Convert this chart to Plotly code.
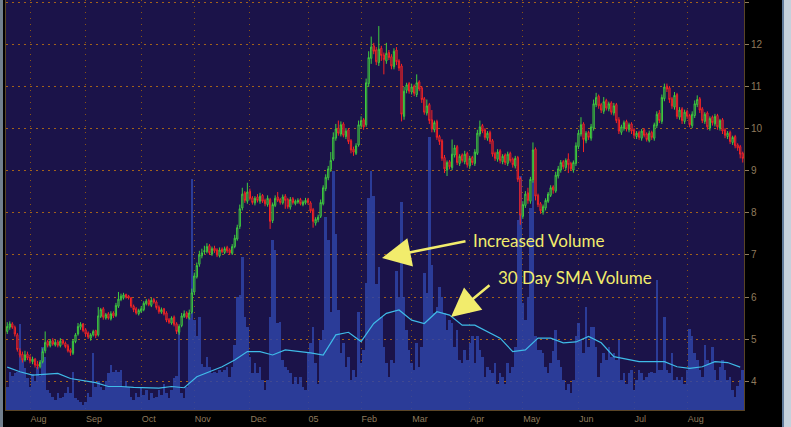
import pandas as pd
import plotly.graph_objects as go

# ---------------- data ----------------
start_date = "2004-07-20"
month_labels = ["Aug", "Sep", "Oct", "Nov", "Dec", "05", "Feb", "Mar", "Apr", "May", "Jun", "Jul", "Aug"]

opens = [
 5.18, 5.28, 5.36, 5.28, 5.10, 4.72, 4.64, 4.50, 4.64, 4.56,
 4.46, 4.52, 4.40, 4.34, 4.46, 4.72, 4.94, 4.84, 4.96, 4.86,
 4.93, 4.84, 4.97, 4.90, 4.84, 4.74, 4.66, 4.94, 5.12, 5.28,
 5.36, 5.22, 5.14, 5.02, 5.10, 5.20, 5.10, 5.54, 5.72, 5.50,
 5.60, 5.48, 5.62, 5.56, 5.78, 5.94, 5.98, 6.06, 6.02, 5.98,
 5.78, 5.72, 5.60, 5.66, 5.70, 5.84, 5.92, 5.80, 5.94, 5.88,
 5.76, 5.64, 5.72, 5.62, 5.46, 5.38, 5.52, 5.36, 5.16, 5.32,
 5.54, 5.62, 5.50, 5.64, 6.12, 6.48, 6.78, 6.98, 7.08, 7.08,
 7.22, 7.02, 7.16, 7.12, 6.98, 7.14, 7.06, 7.18, 7.12, 7.04,
 7.20, 7.38, 7.68, 8.12, 8.48, 8.28, 8.52, 8.36, 8.24, 8.38,
 8.28, 8.42, 8.30, 8.20, 8.32, 7.82, 8.18, 8.38, 8.32, 8.24,
 8.40, 8.32, 8.14, 8.34, 8.22, 8.26, 8.32, 8.20, 8.24, 8.32,
 8.24, 8.08, 7.76, 7.84, 7.92, 8.22, 8.58, 8.84, 9.04, 9.28,
 9.78, 10.02, 9.88, 10.12, 9.82, 9.98, 9.72, 9.52, 9.42, 9.62,
 10.08, 10.22, 10.10, 11.08, 11.68, 11.98, 11.88, 11.58, 11.92, 11.76,
 11.62, 11.82, 11.72, 11.48, 11.88, 11.62, 11.50, 10.30, 10.92, 11.08,
 10.88, 11.02, 10.82, 11.12, 10.98, 10.72, 10.38, 10.58, 10.22, 9.98,
 10.18, 9.82, 9.72, 9.32, 9.02, 9.22, 9.08, 9.38, 9.58, 9.18,
 9.38, 9.22, 9.42, 9.12, 9.32, 9.18, 9.42, 9.88, 10.08, 9.98,
 9.78, 9.92, 9.72, 9.42, 9.28, 9.48, 9.22, 9.38, 9.18, 9.42,
 9.28, 9.12, 9.32, 8.82, 7.92, 8.18, 8.48, 8.28, 8.78, 9.52,
 8.42, 8.22, 8.02, 8.12, 8.28, 8.42, 8.62, 8.52, 8.88, 9.02,
 9.22, 9.08, 9.28, 9.18, 9.02, 9.18, 9.58, 9.88, 10.12, 9.72,
 9.92, 9.78, 10.02, 10.58, 10.78, 10.58, 10.42, 10.68, 10.48, 10.62,
 10.38, 10.58, 10.22, 9.92, 10.02, 10.18, 9.98, 10.12, 9.98, 9.82,
 9.92, 9.78, 9.98, 9.88, 9.72, 9.92, 9.78, 10.08, 10.38, 10.18,
 10.72, 11.02, 10.98, 10.72, 10.52, 10.82, 10.28, 10.48, 10.18, 10.42,
 10.32, 10.08, 10.32, 10.58, 10.72, 10.48, 10.18, 10.38, 10.02, 10.28,
 10.12, 10.32, 10.02, 10.22, 9.98, 9.82, 9.92, 9.68, 9.82, 9.62,
 9.58, 9.42,
]

highs = [
 5.40, 5.42, 5.40, 5.32, 5.14, 4.78, 4.70, 4.72, 4.70, 4.62,
 4.58, 4.55, 4.48, 4.50, 4.78, 5.18, 4.98, 5.00, 5.02, 4.98,
 4.98, 5.02, 5.00, 4.94, 4.88, 4.78, 5.00, 5.14, 5.38, 5.40,
 5.38, 5.26, 5.18, 5.14, 5.22, 5.22, 5.76, 5.74, 5.76, 5.62,
 5.64, 5.66, 5.66, 5.86, 6.12, 6.08, 6.10, 6.08, 6.05, 6.00,
 5.82, 5.76, 5.72, 5.78, 5.90, 5.95, 5.96, 5.98, 5.98, 5.92,
 5.80, 5.75, 5.74, 5.66, 5.50, 5.54, 5.56, 5.40, 5.35, 5.62,
 5.68, 5.66, 5.70, 6.20, 6.58, 6.82, 7.10, 7.15, 7.22, 7.28,
 7.26, 7.20, 7.22, 7.16, 7.18, 7.18, 7.20, 7.22, 7.16, 7.26,
 7.48, 7.72, 8.20, 8.60, 8.52, 8.72, 8.58, 8.40, 8.40, 8.45,
 8.48, 8.45, 8.34, 8.42, 8.36, 8.25, 8.42, 8.50, 8.36, 8.44,
 8.45, 8.36, 8.38, 8.38, 8.32, 8.35, 8.36, 8.30, 8.36, 8.36,
 8.28, 8.12, 7.90, 7.96, 8.32, 8.66, 8.92, 9.12, 9.45, 9.92,
 10.12, 10.20, 10.18, 10.16, 10.02, 10.02, 9.76, 9.58, 9.66, 10.20,
 10.30, 10.26, 11.20, 11.85, 12.20, 12.05, 11.95, 12.45, 11.98, 11.82,
 12.05, 11.88, 11.78, 11.92, 11.95, 11.66, 11.55, 11.00, 11.10, 11.12,
 11.08, 11.06, 11.30, 11.16, 11.02, 10.76, 10.70, 10.62, 10.45, 10.20,
 10.22, 9.86, 9.76, 9.38, 9.25, 9.26, 9.75, 9.62, 9.62, 9.40,
 9.42, 9.48, 9.46, 9.36, 9.36, 9.52, 9.98, 10.20, 10.12, 10.02,
 9.95, 9.96, 9.76, 9.46, 9.52, 9.52, 9.40, 9.42, 9.46, 9.46,
 9.32, 9.36, 9.36, 8.86, 8.28, 8.52, 8.60, 8.86, 9.68, 9.56,
 8.46, 8.26, 8.20, 8.35, 8.50, 8.66, 8.66, 8.98, 9.12, 9.26,
 9.26, 9.30, 9.42, 9.22, 9.25, 9.68, 9.98, 10.28, 10.16, 9.95,
 9.96, 10.12, 10.70, 10.86, 10.82, 10.62, 10.76, 10.72, 10.65, 10.66,
 10.62, 10.62, 10.28, 10.10, 10.20, 10.22, 10.15, 10.16, 10.02, 9.95,
 9.96, 10.00, 10.02, 9.92, 9.96, 9.96, 10.15, 10.42, 10.45, 10.82,
 11.08, 11.08, 11.02, 10.76, 10.88, 10.86, 10.52, 10.52, 10.46, 10.46,
 10.36, 10.42, 10.68, 10.80, 10.76, 10.52, 10.40, 10.42, 10.30, 10.32,
 10.36, 10.36, 10.24, 10.26, 10.02, 9.95, 9.96, 9.84, 9.86, 9.66,
 9.62, 9.46,
]

lows = [
 5.12, 5.22, 5.24, 5.06, 4.70, 4.56, 4.44, 4.46, 4.50, 4.42,
 4.40, 4.32, 4.28, 4.30, 4.42, 4.66, 4.80, 4.80, 4.84, 4.82,
 4.80, 4.80, 4.86, 4.78, 4.68, 4.60, 4.62, 4.90, 5.08, 5.22,
 5.16, 5.06, 5.00, 4.96, 5.06, 5.02, 5.06, 5.50, 5.46, 5.46,
 5.46, 5.44, 5.50, 5.52, 5.74, 5.90, 5.94, 5.96, 5.94, 5.74,
 5.64, 5.58, 5.56, 5.62, 5.66, 5.80, 5.78, 5.76, 5.84, 5.70,
 5.60, 5.60, 5.56, 5.40, 5.36, 5.34, 5.30, 5.12, 5.10, 5.28,
 5.50, 5.48, 5.46, 5.60, 6.05, 6.44, 6.72, 6.92, 7.02, 7.04,
 7.00, 6.98, 7.05, 6.95, 6.94, 7.04, 7.02, 7.05, 7.00, 7.00,
 7.16, 7.34, 7.62, 8.06, 8.24, 8.22, 8.30, 8.20, 8.18, 8.25,
 8.22, 8.24, 8.16, 8.15, 7.62, 7.76, 8.14, 8.26, 8.20, 8.20,
 8.10, 8.10, 8.08, 8.20, 8.18, 8.22, 8.18, 8.16, 8.20, 8.20,
 8.00, 7.65, 7.70, 7.78, 7.88, 8.18, 8.52, 8.78, 8.98, 9.24,
 9.72, 9.84, 9.82, 9.80, 9.76, 9.64, 9.42, 9.36, 9.38, 9.58,
 10.02, 9.98, 10.05, 11.00, 11.55, 11.78, 11.52, 11.50, 11.62, 11.30,
 11.55, 11.64, 11.42, 11.42, 11.52, 11.38, 10.18, 10.22, 10.85, 10.84,
 10.82, 10.78, 10.76, 10.90, 10.62, 10.34, 10.32, 10.12, 9.92, 9.92,
 9.74, 9.62, 9.24, 8.95, 8.88, 9.04, 9.02, 9.32, 9.14, 9.12,
 9.20, 9.16, 9.08, 9.06, 9.14, 9.12, 9.38, 9.82, 9.90, 9.74,
 9.72, 9.64, 9.34, 9.24, 9.22, 9.18, 9.16, 9.14, 9.12, 9.20,
 9.08, 9.06, 8.74, 7.72, 7.86, 8.12, 8.22, 8.22, 8.72, 8.30,
 8.14, 7.98, 7.96, 8.06, 8.24, 8.38, 8.46, 8.48, 8.82, 8.96,
 9.04, 9.02, 8.95, 9.00, 8.96, 9.12, 9.52, 9.82, 9.45, 9.66,
 9.74, 9.72, 9.96, 10.52, 10.48, 10.38, 10.36, 10.44, 10.42, 10.34,
 10.32, 10.14, 9.88, 9.86, 9.96, 9.94, 9.92, 9.88, 9.78, 9.76,
 9.74, 9.72, 9.80, 9.70, 9.68, 9.74, 9.72, 10.02, 10.14, 10.12,
 10.66, 10.88, 10.62, 10.48, 10.46, 10.24, 10.22, 10.12, 10.12, 10.24,
 10.04, 10.02, 10.26, 10.52, 10.38, 10.14, 10.12, 9.98, 9.96, 10.08,
 10.06, 9.98, 9.96, 9.88, 9.78, 9.76, 9.64, 9.62, 9.54, 9.48,
 9.30, 9.20,
]

closes = [
 5.30, 5.36, 5.28, 5.12, 4.75, 4.62, 4.50, 4.62, 4.55, 4.48,
 4.52, 4.38, 4.35, 4.45, 4.70, 4.92, 4.85, 4.95, 4.88, 4.92,
 4.85, 4.95, 4.90, 4.82, 4.72, 4.68, 4.95, 5.10, 5.30, 5.35,
 5.20, 5.12, 5.05, 5.10, 5.18, 5.08, 5.55, 5.70, 5.52, 5.58,
 5.50, 5.60, 5.55, 5.80, 5.95, 6.02, 6.05, 6.00, 5.98, 5.78,
 5.70, 5.62, 5.68, 5.72, 5.85, 5.90, 5.82, 5.92, 5.88, 5.75,
 5.65, 5.70, 5.60, 5.45, 5.40, 5.50, 5.35, 5.18, 5.30, 5.55,
 5.60, 5.52, 5.62, 6.10, 6.50, 6.75, 7.00, 7.05, 7.10, 7.20,
 7.05, 7.15, 7.10, 7.00, 7.12, 7.08, 7.15, 7.10, 7.05, 7.20,
 7.40, 7.65, 8.10, 8.45, 8.30, 8.50, 8.35, 8.25, 8.35, 8.30,
 8.40, 8.28, 8.22, 8.35, 7.80, 8.20, 8.35, 8.30, 8.25, 8.38,
 8.30, 8.15, 8.32, 8.25, 8.28, 8.30, 8.22, 8.26, 8.30, 8.25,
 8.05, 7.80, 7.85, 7.90, 8.25, 8.60, 8.85, 9.05, 9.25, 9.80,
 10.00, 9.90, 10.10, 9.85, 9.95, 9.70, 9.50, 9.45, 9.60, 10.10,
 10.20, 10.05, 11.10, 11.70, 11.95, 11.85, 11.60, 11.90, 11.75, 11.65,
 11.80, 11.70, 11.50, 11.85, 11.60, 11.45, 10.35, 10.90, 11.05, 10.90,
 11.00, 10.85, 11.10, 10.95, 10.70, 10.40, 10.55, 10.20, 10.00, 10.15,
 9.80, 9.70, 9.30, 9.05, 9.20, 9.10, 9.40, 9.55, 9.20, 9.35,
 9.25, 9.40, 9.15, 9.30, 9.20, 9.45, 9.90, 10.05, 9.95, 9.80,
 9.90, 9.70, 9.40, 9.30, 9.45, 9.25, 9.35, 9.20, 9.40, 9.25,
 9.15, 9.30, 8.80, 7.95, 8.20, 8.45, 8.30, 8.80, 9.50, 8.40,
 8.20, 8.05, 8.15, 8.30, 8.45, 8.60, 8.55, 8.90, 9.05, 9.20,
 9.10, 9.25, 9.15, 9.05, 9.20, 9.60, 9.90, 10.10, 9.75, 9.90,
 9.80, 10.05, 10.60, 10.75, 10.55, 10.45, 10.65, 10.50, 10.60, 10.40,
 10.55, 10.20, 9.95, 10.05, 10.15, 10.00, 10.10, 9.95, 9.85, 9.90,
 9.80, 9.95, 9.85, 9.75, 9.90, 9.80, 10.10, 10.35, 10.20, 10.75,
 11.00, 10.95, 10.70, 10.55, 10.80, 10.30, 10.45, 10.20, 10.40, 10.30,
 10.10, 10.35, 10.60, 10.70, 10.45, 10.20, 10.35, 10.05, 10.25, 10.15,
 10.30, 10.05, 10.20, 9.95, 9.85, 9.90, 9.70, 9.80, 9.60, 9.55,
 9.40, 9.30,
]

# daily volume (millions of shares)
volumes = [
 0.55, 0.90, 0.80, 0.87, 0.90, 2.05, 1.20, 1.00, 0.75, 0.55,
 0.85, 0.70, 1.02, 0.80, 1.50, 1.25, 0.48, 0.40, 0.32, 0.24,
 0.40, 0.28, 0.32, 0.40, 0.55, 0.40, 0.90, 0.28, 0.24, 0.20,
 0.12, 0.20, 0.40, 0.32, 1.35, 0.55, 0.70, 0.55, 0.48, 0.70,
 0.87, 1.06, 0.90, 0.95, 0.90, 0.95, 0.55, 0.70, 0.55, 0.32,
 0.24, 0.40, 0.32, 0.55, 0.36, 0.48, 0.24, 0.40, 0.28, 0.32,
 0.48, 0.36, 0.63, 0.40, 0.28, 0.48, 0.75, 0.80, 2.00, 0.40,
 0.28, 0.55, 2.20, 5.50, 2.14, 1.75, 2.22, 1.10, 1.03, 1.27,
 1.03, 0.87, 0.90, 0.87, 0.95, 0.90, 0.95, 1.03, 0.79, 1.03,
 1.55, 2.70, 2.74, 3.65, 2.22, 1.98, 1.27, 0.87, 1.11, 0.87,
 1.03, 0.71, 0.48, 0.71, 2.22, 4.05, 3.80, 2.06, 2.10, 1.19,
 1.03, 0.95, 0.87, 0.63, 0.79, 0.63, 0.79, 0.55, 0.48, 1.35,
 1.59, 1.98, 1.11, 0.63, 1.67, 1.90, 4.60, 4.05, 2.34, 5.68,
 4.20, 2.38, 1.35, 1.59, 1.03, 1.27, 0.71, 0.95, 0.79, 2.34,
 1.11, 1.43, 3.02, 5.04, 5.68, 5.10, 3.00, 3.40, 2.22, 1.51,
 1.11, 0.79, 1.19, 1.11, 3.30, 2.70, 4.96, 2.70, 1.90, 1.43,
 1.11, 0.95, 1.59, 1.03, 1.51, 3.25, 2.78, 6.50, 3.45, 2.30,
 2.46, 2.94, 2.70, 2.30, 1.90, 2.14, 2.06, 1.51, 1.90, 1.19,
 1.11, 1.43, 1.19, 1.59, 1.75, 1.11, 1.75, 1.43, 1.27, 0.79,
 1.03, 0.95, 0.87, 1.11, 0.63, 0.87, 0.79, 0.63, 1.11, 0.87,
 1.03, 1.51, 4.52, 5.56, 2.54, 2.14, 2.70, 4.80, 5.44, 1.75,
 1.43, 1.43, 1.35, 1.03, 0.87, 1.11, 1.40, 1.90, 1.20, 1.03,
 0.71, 0.48, 0.63, 0.40, 0.71, 1.75, 2.06, 1.67, 1.35, 2.46,
 1.51, 1.98, 1.98, 1.51, 0.79, 1.11, 1.35, 1.19, 1.51, 1.27,
 1.35, 1.19, 1.67, 0.71, 0.87, 0.63, 0.87, 0.95, 0.48, 0.71,
 0.95, 0.87, 0.71, 0.79, 0.87, 0.91, 0.87, 3.10, 0.95, 0.95,
 2.22, 0.95, 0.87, 1.35, 0.71, 0.79, 0.71, 0.79, 0.63, 0.95,
 1.94, 1.75, 1.35, 1.19, 0.95, 0.79, 1.55, 1.19, 1.11, 1.51,
 0.95, 0.71, 1.03, 1.19, 0.95, 0.71, 0.79, 0.48, 0.32, 0.56,
 0.71, 0.95,
]

# 30-day SMA of volume, read every 5th trading day
sma_step = 5
sma_volume = [
 1.02, 0.91, 0.83, 0.85, 0.87, 0.75, 0.70, 0.65, 0.56, 0.56,
 0.54, 0.53, 0.52, 0.56, 0.53, 0.79, 0.91, 1.03, 1.19, 1.39,
 1.39, 1.31, 1.43, 1.40, 1.36, 1.31, 1.79, 1.85, 1.63, 2.06,
 2.30, 2.38, 2.14, 2.06, 2.34, 2.26, 2.02, 2.02, 1.87, 1.71,
 1.39, 1.43, 1.71, 1.71, 1.60, 1.62, 1.75, 1.60, 1.27, 1.21,
 1.15, 1.15, 1.15, 1.03, 0.99, 1.03, 1.15, 1.13, 1.02,
]

# ---------------- figure ----------------
dates = pd.bdate_range(start_date, periods=len(closes))
date_s = pd.Series(dates)
month_first = date_s.groupby(date_s.dt.to_period("M")).first()
month_first = [d for d in month_first if d.day <= 7]
sma_dates = dates[::sma_step][:len(sma_volume)]

W, H = 791, 427
ML, MR, MT, MB = 6, 47, 0, 17
PW, PH = W - ML - MR, H - MT - MB

BG = "#1b1349"
GRID = "#a2621a"
AXLINE = "#5a4526"
TICKC = "#8f7a5c"
YELLOW = "#f2ec6c"

fig = go.Figure()

fig.add_trace(go.Bar(
    x=dates, y=volumes, yaxis="y",
    marker=dict(color="rgba(47,68,168,0.84)", line=dict(width=0)),
    hoverinfo="skip", showlegend=False,
))
fig.add_trace(go.Scatter(
    x=sma_dates, y=sma_volume, yaxis="y", mode="lines",
    line=dict(color="#3fbbe8", width=1.2),
    hoverinfo="skip", showlegend=False,
))
fig.add_trace(go.Candlestick(
    x=dates, open=opens, high=highs, low=lows, close=closes, yaxis="y2",
    increasing=dict(line=dict(color="#3fcc3f", width=1), fillcolor="rgba(27,19,73,1)"),
    decreasing=dict(line=dict(color="#f52424", width=1), fillcolor="rgba(27,19,73,1)"),
    whiskerwidth=0, showlegend=False,
))

fig.update_layout(
    width=W, height=H,
    margin=dict(l=ML, r=MR, t=MT, b=MB, pad=0),
    paper_bgcolor="#000000", plot_bgcolor=BG,
    bargap=0, showlegend=False,
    font=dict(family="Liberation Sans, Arial, sans-serif", size=9, color=TICKC),
    xaxis=dict(
        type="date",
        range=[dates[0] - pd.Timedelta(hours=12), dates[-1] + pd.Timedelta(hours=12)],
        rangebreaks=[dict(bounds=["sat", "mon"])],
        rangeslider=dict(visible=False),
        tickmode="array", tickvals=month_first, ticktext=month_labels,
        ticklabelposition="outside right",
        ticks="", showgrid=True, gridcolor="#8a5416", griddash="1px,5px", gridwidth=1,
        showline=True, linecolor=AXLINE, linewidth=1, mirror=True,
        tickfont=dict(size=9, color=TICKC), zeroline=False,
    ),
    yaxis=dict(range=[0, 9.76], visible=False, fixedrange=True),
    yaxis2=dict(
        overlaying="y", side="right", range=[3.31, 13.07],
        tickmode="array", tickvals=list(range(4, 14)),
        ticks="outside", ticklen=4, tickcolor=TICKC, tickwidth=1,
        showgrid=True, gridcolor=GRID, griddash="2px,4px", gridwidth=1,
        showline=True, linecolor=AXLINE, linewidth=1, mirror=True,
        tickfont=dict(size=10, color=TICKC), zeroline=False,
    ),
)

def px_x(p):
    return (p - ML) / PW

def px_y(p):
    return (H - MB - p) / PH

# callouts
fig.add_annotation(text="Increased Volume", xref="paper", yref="paper",
                   x=px_x(471), y=px_y(240), xanchor="left", yanchor="middle",
                   showarrow=False, font=dict(family="Lato, Open Sans, sans-serif", size=17, color=YELLOW))
fig.add_annotation(text="30 Day SMA Volume", xref="paper", yref="paper",
                   x=px_x(496), y=px_y(277), xanchor="left", yanchor="middle",
                   showarrow=False, font=dict(family="Lato, Open Sans, sans-serif", size=17, color=YELLOW))
fig.add_annotation(text="", xref="paper", yref="paper", x=px_x(382), y=px_y(258),
                   ax=85, ay=-17, showarrow=True, arrowhead=2, arrowsize=2.3,
                   arrowwidth=2.5, arrowcolor=YELLOW, standoff=0)
fig.add_annotation(text="", xref="paper", yref="paper", x=px_x(451), y=px_y(317),
                   ax=40, ay=-33, showarrow=True, arrowhead=2, arrowsize=2.3,
                   arrowwidth=2.5, arrowcolor=YELLOW, standoff=0)

# page: no body margin; thin window-border strips at the left and right edges
post_js = """
document.body.style.margin='0px';
document.body.style.background='#000';
document.body.style.overflow='hidden';
function strip(side, off, w, col){
  var d=document.createElement('div');
  d.style.position='fixed'; d.style.top='0px'; d.style.height='100%';
  d.style[side]=off+'px'; d.style.width=w+'px'; d.style.background=col;
  d.style.pointerEvents='none'; d.style.zIndex='1000';
  document.body.appendChild(d);
}
strip('left', 0, 3, '#717f8e');
strip('right', 0, 7, '#c6d1dc');
strip('right', 7, 2, '#627c9c');
"""

fig.write_html("out.html", config={"displayModeBar": False}, post_script=post_js)
